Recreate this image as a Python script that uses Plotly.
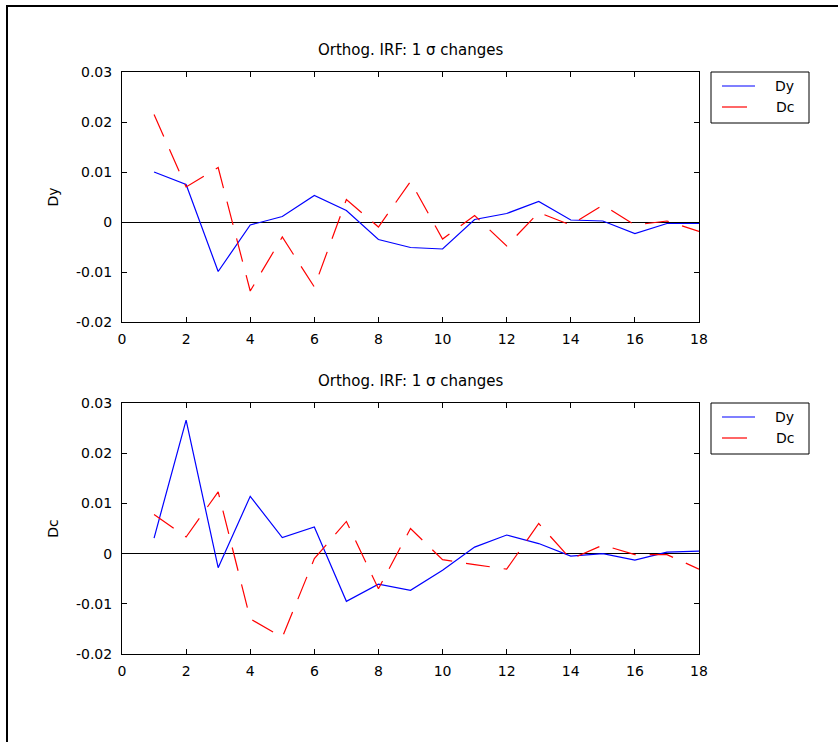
import plotly.graph_objects as go

# Horizon (periods after the shock)
steps = list(range(1, 19))

# Response of Dy to orthogonalised 1-sigma shocks
dy_to_dy = [0.0100, 0.0075, -0.0099, -0.0006, 0.0011, 0.0053, 0.0023, -0.0035, -0.0051,
            -0.0054, 0.0005, 0.0017, 0.0041, 0.0004, 0.0002, -0.0023, -0.0003, -0.0003]
dy_to_dc = [0.0215, 0.0070, 0.0109, -0.0138, -0.0030, -0.0130, 0.0045, -0.0010, 0.0081,
            -0.0034, 0.0013, -0.0048, 0.0019, -0.0006, 0.0034, -0.0006, 0.0002, -0.0019]

# Response of Dc to orthogonalised 1-sigma shocks
dc_to_dy = [0.0031, 0.0266, -0.0028, 0.0114, 0.0032, 0.0053, -0.0095, -0.0061, -0.0073,
            -0.0033, 0.0013, 0.0037, 0.0020, -0.0005, 0.0000, -0.0013, 0.0003, 0.0005]
dc_to_dc = [0.0078, 0.0033, 0.0123, -0.0130, -0.0167, -0.0010, 0.0064, -0.0070, 0.0050,
            -0.0012, -0.0022, -0.0031, 0.0060, -0.0011, 0.0017, -0.0002, -0.0002, -0.0031]

panel_titles = ["Orthog. IRF: 1 \u03c3 changes", "Orthog. IRF: 1 \u03c3 changes"]
panel_ylabels = ["Dy", "Dc"]
legend_names = ["Dy", "Dc"]
x_ticks = [0, 2, 4, 6, 8, 10, 12, 14, 16, 18]
y_ticks = [-0.02, -0.01, 0, 0.01, 0.02, 0.03]
y_ticktext = ["-0.02", "-0.01", "0", "0.01", "0.02", "0.03"]

W, H = 838, 742
FONT = "DejaVu Sans, Liberation Sans, Arial, sans-serif"
FS = 14
BLUE, RED = "#0000ff", "#ff0000"


def px_x(p):
    return p / W


def px_y(p):
    return 1 - p / H


x_dom = [px_x(122), px_x(699)]
y_doms = [[px_y(322), px_y(72)], [px_y(654), px_y(403)]]

fig = go.Figure()

series = [(dy_to_dy, dy_to_dc), (dc_to_dy, dc_to_dc)]
for i, (blue, red) in enumerate(series):
    xa = "x" if i == 0 else "x2"
    ya = "y" if i == 0 else "y2"
    fig.add_trace(go.Scatter(x=steps, y=blue, mode="lines", name=legend_names[0],
                             line=dict(color=BLUE, width=1.2),
                             xaxis=xa, yaxis=ya, showlegend=False))
    fig.add_trace(go.Scatter(x=steps, y=red, mode="lines", name=legend_names[1],
                             line=dict(color=RED, width=1.2, dash="24px,14px"),
                             xaxis=xa, yaxis=ya, showlegend=False))

axis_common = dict(showline=True, linecolor="black", linewidth=1, mirror="ticks",
                   ticks="inside", ticklen=5, tickcolor="black", tickwidth=1,
                   showgrid=False, tickfont=dict(family=FONT, size=FS, color="black"))

layout = dict(
    width=W, height=H,
    margin=dict(l=0, r=0, t=0, b=0, autoexpand=False),
    paper_bgcolor="white", plot_bgcolor="white",
    font=dict(family=FONT, size=FS, color="black"),
    showlegend=False,
)

for i in range(2):
    sfx = "" if i == 0 else "2"
    anchor_y = "y" if i == 0 else "y2"
    anchor_x = "x" if i == 0 else "x2"
    layout["xaxis" + sfx] = dict(domain=x_dom, anchor=anchor_y, range=[0, 18],
                                 tickvals=x_ticks, zeroline=False, ticklabelstandoff=4,
                                 **axis_common)
    layout["yaxis" + sfx] = dict(domain=y_doms[i], anchor=anchor_x, range=[-0.02, 0.03],
                                 tickvals=y_ticks, ticktext=y_ticktext,
                                 zeroline=True, zerolinecolor="black", zerolinewidth=1,
                                 ticklabelstandoff=6,
                                 title=dict(text=panel_ylabels[i], standoff=14,
                                            font=dict(family=FONT, size=FS)),
                                 **axis_common)

fig.update_layout(**layout)

# Panel titles
for i in range(2):
    fig.add_annotation(text=panel_titles[i], xref="paper", yref="paper",
                       x=(x_dom[0] + x_dom[1]) / 2, y=y_doms[i][1],
                       xanchor="center", yanchor="bottom", yshift=11, showarrow=False,
                       font=dict(family=FONT, size=15, color="black"))

# Boxed key beside each panel: line sample + series name
for i in range(2):
    top = 72 if i == 0 else 403
    fig.add_shape(type="rect", xref="paper", yref="paper",
                  x0=px_x(711), x1=px_x(809), y0=px_y(top + 51), y1=px_y(top),
                  line=dict(color="black", width=1), fillcolor="white")
    for k, (name, color, seg) in enumerate([(legend_names[0], BLUE, 33),
                                            (legend_names[1], RED, 25)]):
        yy = top + 14 + k * 21
        fig.add_shape(type="line", xref="paper", yref="paper",
                      x0=px_x(722), x1=px_x(722 + seg), y0=px_y(yy), y1=px_y(yy),
                      line=dict(color=color, width=1.2))
        fig.add_annotation(text=name, xref="paper", yref="paper",
                           x=px_x(796), y=px_y(yy), xanchor="right", yanchor="middle",
                           showarrow=False, font=dict(family=FONT, size=FS, color="black"))

# Outer figure frame (top and left edges visible)
fig.add_shape(type="rect", xref="paper", yref="paper",
              x0=px_x(7), y0=-0.2, x1=1.2, y1=px_y(6),
              line=dict(color="black", width=2), fillcolor="rgba(0,0,0,0)", layer="above")

fig.write_html("out.html")
